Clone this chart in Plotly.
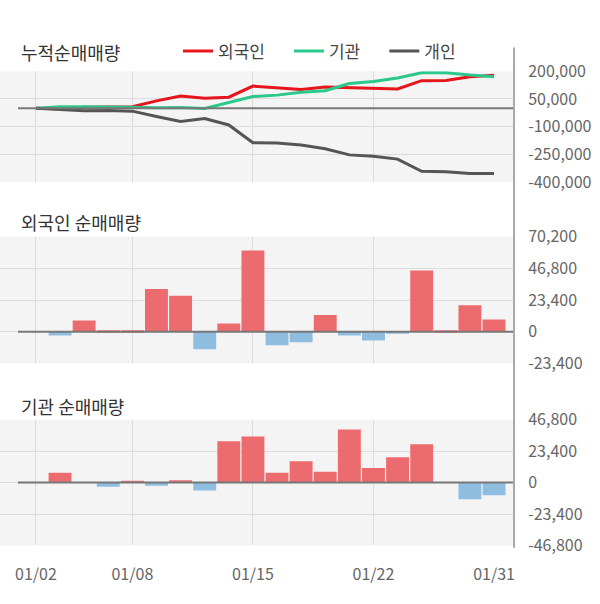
import plotly.graph_objects as go

# ---- data ----
dates = ["01/02", "01/03", "01/06", "01/07", "01/08", "01/09", "01/10", "01/13",
         "01/14", "01/15", "01/16", "01/17", "01/20", "01/21", "01/22", "01/23",
         "01/28", "01/29", "01/30", "01/31"]

cum_foreign = [0, -2800, 5500, 6700, 7900, 39600, 66300, 53500, 59600, 119600,
               109700, 101900, 114400, 111600, 105200, 103800, 149000, 150200,
               169800, 178800]
cum_inst = [0, 7300, 7300, 4200, 5200, 2800, 4400, -1500, 29200, 63500,
            70800, 86600, 94600, 134100, 145000, 163900, 192500, 192500,
            180000, 170500]
cum_indiv = [0, -7000, -14000, -12000, -16000, -45000, -72000, -56000, -91000,
             -187000, -188000, -200000, -220000, -253000, -260000, -276000,
             -342000, -344000, -354000, -354000]

daily_foreign = [None, -2800, 8300, 1200, 1200, 31700, 26700, -12800, 6100, 60000,
                 -9900, -7800, 12500, -2800, -6400, -1400, 45200, 1200, 19600, 9000]
daily_inst = [None, 7300, 0, -3100, 950, -2400, 1650, -5900, 30700, 34300,
              7300, 15800, 8000, 39500, 10900, 18900, 28600, 0, -12500, -9500]

top_ticks = [-400000, -250000, -100000, 50000, 200000]
top_ticktext = ["-400,000", "-250,000", "-100,000", "50,000", "200,000"]
mid_ticks = [-23400, 0, 23400, 46800, 70200]
mid_ticktext = ["-23,400", "0", "23,400", "46,800", "70,200"]
bot_ticks = [-46800, -23400, 0, 23400, 46800]
bot_ticktext = ["-46,800", "-23,400", "0", "23,400", "46,800"]

grid_idx = [0, 4, 9, 14]
label_idx = [0, 4, 9, 14, 19]

titles = ["누적순매매량", "외국인 순매매량", "기관 순매매량"]
series_names = ["외국인", "기관", "개인"]

# ---- styling ----
W, H = 600, 604
FONT = "Noto Sans CJK KR"
RED_LINE, GREEN_LINE, GRAY_LINE = "#e8141c", "#2ac88b", "#555555"
POS, NEG = "#ec6b6e", "#8fbde0"
BG, GRID = "#f4f4f4", "#dcdcdc"
PAD = "\u00a0" * 5


def px(p):
    return p / W


def py(p):
    return 1 - p / H


x = list(range(len(dates)))
xr = [-1.49, 19.87]
xdom = [0, px(515)]

fig = go.Figure()
for i, (name, vals, col) in enumerate(zip(series_names, [cum_foreign, cum_inst, cum_indiv],
                                          [RED_LINE, GREEN_LINE, GRAY_LINE])):
    label = name + (PAD if i < len(series_names) - 1 else "")
    fig.add_trace(go.Scatter(x=x, y=vals, name=label, mode="lines",
                             line=dict(color=col, width=3), xaxis="x", yaxis="y"))


def bar_colors(vals):
    return [POS if (v or 0) >= 0 else NEG for v in vals]


fig.add_trace(go.Bar(x=x, y=daily_foreign, marker=dict(color=bar_colors(daily_foreign), line=dict(width=0)),
                     showlegend=False, xaxis="x2", yaxis="y2"))
fig.add_trace(go.Bar(x=x, y=daily_inst, marker=dict(color=bar_colors(daily_inst), line=dict(width=0)),
                     showlegend=False, xaxis="x3", yaxis="y3"))
# empty carrier trace so the date-label axis (x4) is drawn
fig.add_trace(go.Scatter(x=x, y=[None] * len(x), mode="lines", showlegend=False,
                         hoverinfo="skip", xaxis="x4", yaxis="y3"))

xcommon = dict(domain=xdom, range=xr, tickmode="array", tickvals=grid_idx,
               showticklabels=False, showgrid=True, gridcolor=GRID, gridwidth=1,
               zeroline=False, showline=False, ticks="", fixedrange=True)
ycommon = dict(side="right", showgrid=True, gridcolor=GRID, gridwidth=1,
               zeroline=False, showline=False, ticks="outside", ticklen=9,
               tickcolor="rgba(0,0,0,0)", tickfont=dict(size=16, color="#666666"),
               tickmode="array")

fig.update_layout(
    width=W, height=H,
    margin=dict(l=0, r=0, t=0, b=0),
    paper_bgcolor="white", plot_bgcolor=BG,
    font=dict(family=FONT, color="#444444"),
    bargap=0.05,
    xaxis=dict(xcommon, anchor="y"),
    xaxis2=dict(xcommon, anchor="y2"),
    xaxis3=dict(xcommon, anchor="y3"),
    xaxis4=dict(domain=xdom, range=xr, overlaying="x3", anchor="y3",
                tickmode="array", tickvals=label_idx,
                ticktext=[dates[i] for i in label_idx],
                showgrid=False, zeroline=False, showline=False,
                ticks="outside", ticklen=14, tickcolor="rgba(0,0,0,0)",
                tickfont=dict(size=16, color="#666666")),
    yaxis=dict(ycommon, domain=[py(176), py(60.7)], range=[-400000, 200000],
               tickvals=top_ticks, ticktext=top_ticktext, anchor="x"),
    yaxis2=dict(ycommon, domain=[py(365), py(233)], range=[-23400, 70200],
                tickvals=mid_ticks, ticktext=mid_ticktext, anchor="x2"),
    yaxis3=dict(ycommon, domain=[py(554.5), py(423.5)], range=[-46800, 46800],
                tickvals=bot_ticks, ticktext=bot_ticktext, anchor="x3"),
    legend=dict(orientation="h", x=px(178), y=py(40), xanchor="left", yanchor="middle",
                bgcolor="rgba(0,0,0,0)", font=dict(size=17, color="#444444"),
                itemclick=False),
    showlegend=True,
)

# panel titles
for t, ypix in zip(titles, [41, 218, 409]):
    fig.add_annotation(text=t, x=px(19), y=py(ypix), xref="paper", yref="paper",
                       xanchor="left", yanchor="middle", showarrow=False,
                       font=dict(size=18, color="#333333", family=FONT))

# zero lines
for yref in ["y", "y2", "y3"]:
    fig.add_shape(type="line", xref="paper", yref=yref, x0=px(18), x1=px(515),
                  y0=0, y1=0, line=dict(color="#777777", width=2), layer="above")

# right axis line spanning all panels
fig.add_shape(type="line", xref="paper", yref="paper", x0=px(514), x1=px(514),
              y0=py(557), y1=py(36), line=dict(color="#aaaaaa", width=2))

fig.write_html("out.html")
